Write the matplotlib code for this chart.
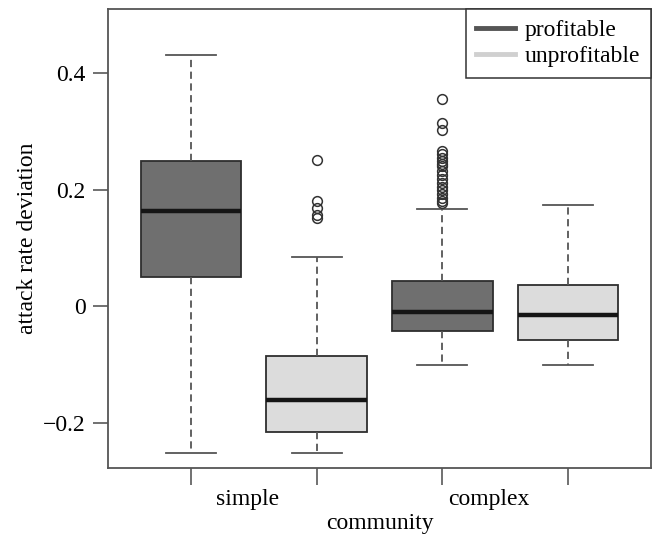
import matplotlib
matplotlib.use("Agg")
import matplotlib.pyplot as plt
from matplotlib.lines import Line2D

# Boxplot statistics (attack rate deviation)
groups = ["simple", "simple", "complex", "complex"]
kinds = ["profitable", "unprofitable", "profitable", "unprofitable"]
whislo = [-0.251, -0.252, -0.100, -0.100]
q1 = [0.051, -0.216, -0.042, -0.057]
medians = [0.163, -0.160, -0.009, -0.014]
q3 = [0.250, -0.085, 0.043, 0.036]
whishi = [0.431, 0.084, 0.167, 0.174]
fliers = [
    [],
    [0.251, 0.181, 0.168, 0.156, 0.151],
    [0.356, 0.314, 0.303, 0.266, 0.261, 0.255, 0.250, 0.245, 0.240, 0.233,
     0.226, 0.219, 0.212, 0.205, 0.199, 0.192, 0.186, 0.181, 0.177],
    [],
]
fill_colors = {"profitable": "#6f6f6f", "unprofitable": "#dcdcdc"}
legend_colors = {"profitable": "#555555", "unprofitable": "#d0d0d0"}

plt.rcParams["font.family"] = ["Liberation Serif", "DejaVu Serif"]
plt.rcParams["font.size"] = 17

fig = plt.figure(figsize=(6.59, 5.35), dpi=100)
ax = fig.add_axes([108 / 659, 1 - 468 / 535, (651 - 108) / 659, (468 - 9) / 535])

stats = []
for i in range(len(medians)):
    stats.append({"whislo": whislo[i], "q1": q1[i], "med": medians[i], "q3": q3[i],
                  "whishi": whishi[i], "fliers": fliers[i]})

positions = list(range(1, len(medians) + 1))
bp = ax.bxp(stats, positions=positions, widths=0.8, capwidths=0.4, patch_artist=True,
            showfliers=True,
            boxprops=dict(edgecolor="#2e2e2e", linewidth=1.3),
            medianprops=dict(color="#151515", linewidth=3.2),
            whiskerprops=dict(color="#555555", linewidth=1.3, linestyle=(0, (4, 2.5))),
            capprops=dict(color="#555555", linewidth=1.3),
            flierprops=dict(marker="o", markerfacecolor="none", markeredgecolor="#333333",
                            markersize=7, markeredgewidth=1.1))
for patch, k in zip(bp["boxes"], kinds):
    patch.set_facecolor(fill_colors[k])

ax.set_xlim(0.34, 4.66)
ax.set_ylim(-0.277, 0.510)

ax.set_yticks([-0.2, 0, 0.2, 0.4])
ax.set_yticklabels(["\u22120.2", "0", "0.2", "0.4"])
ax.tick_params(axis="y", length=11, width=1.3, color="#666666", pad=5)

# group ticks at each box, labels between pairs
ax.set_xticks(positions, minor=True)
ax.set_xticks([1.45, 3.37])
ax.set_xticklabels(["simple", "complex"])
ax.tick_params(axis="x", which="minor", length=12, width=1.3, color="#666666")
ax.tick_params(axis="x", which="major", length=0, pad=15)

for s in ax.spines.values():
    s.set_color("#555555")
    s.set_linewidth(1.3)

ax.set_ylabel("attack rate deviation", labelpad=4)
ax.set_xlabel("community", labelpad=2)

handles = [Line2D([], [], color=legend_colors[k], linewidth=3.5) for k in ["profitable", "unprofitable"]]
leg = ax.legend(handles, ["profitable", "unprofitable"], loc="upper right", borderaxespad=0,
                fancybox=False, framealpha=1, edgecolor="#333333", handlelength=1.65,
                handletextpad=0.4, labelspacing=0.2, borderpad=0.45)
leg.get_frame().set_linewidth(1.1)

fig.savefig("out.png", dpi=100)
